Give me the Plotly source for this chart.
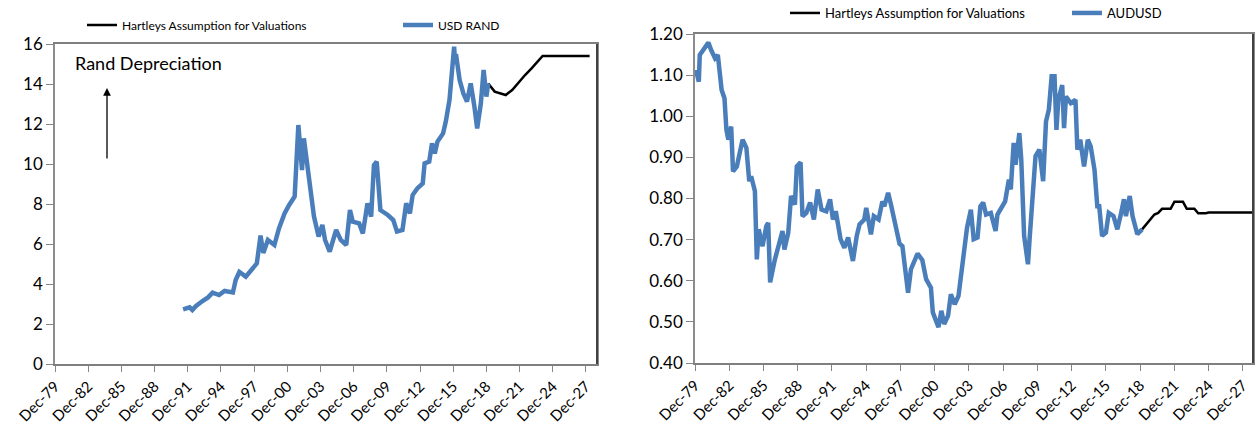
import plotly.graph_objects as go

W, H = 1258, 443

# ---------------- data ----------------
zar_dates = ["1991-07", "1992-02", "1992-05", "1992-09", "1993-04", "1993-10", "1994-03", "1994-10",
             "1995-04", "1996-01", "1996-04", "1996-08", "1997-03", "1997-09", "1998-03", "1998-07",
             "1998-10", "1999-03", "1999-10", "2000-03", "2000-09", "2001-02", "2001-08", "2001-12",
             "2002-04", "2002-06", "2002-08", "2003-02", "2003-05", "2003-10", "2004-02", "2004-05",
             "2004-10", "2005-05", "2005-10", "2006-04", "2006-08", "2006-11", "2007-06", "2007-10",
             "2008-03", "2008-07", "2008-10", "2009-01", "2009-05", "2010-01", "2010-07", "2010-11",
             "2011-05", "2011-09", "2012-01", "2012-04", "2012-09", "2013-03", "2013-05", "2013-10",
             "2014-01", "2014-04", "2014-07", "2015-01", "2015-04", "2015-08", "2015-12", "2016-01",
             "2016-02", "2016-03", "2016-07", "2016-11", "2017-03", "2017-07", "2017-11", "2018-02",
             "2018-06", "2018-09", "2018-12", "2019-02"]
zar_values = [2.73, 2.83, 2.70, 2.90, 3.15, 3.33, 3.57, 3.45,
              3.65, 3.58, 4.20, 4.60, 4.37, 4.70, 5.03, 6.42,
              5.55, 6.20, 5.95, 6.78, 7.53, 7.95, 8.37, 11.95,
              9.70, 11.28, 10.53, 8.03, 7.37, 6.37, 6.95, 6.20,
              5.62, 6.70, 6.20, 5.95, 7.70, 7.12, 7.03, 6.53,
              8.03, 7.37, 9.95, 10.12, 7.70, 7.45, 7.20, 6.62,
              6.70, 8.03, 7.53, 8.45, 8.78, 9.03, 10.03, 10.12,
              11.03, 10.53, 11.12, 11.53, 12.12, 13.20, 15.20, 15.87,
              15.00, 15.50, 14.20, 13.53, 13.12, 14.03, 12.87, 11.78,
              13.03, 14.70, 13.37, 14.03]

zar_hartleys_dates = ["2019-02", "2019-09", "2020-09", "2021-04", "2022-06", "2023-01", "2024-01", "2028-04"]
zar_hartleys_values = [14.03, 13.62, 13.45, 13.70, 14.45, 14.78, 15.40, 15.40]

aud_dates = ["1980-01", "1980-04", "1980-05", "1980-10", "1981-02", "1981-05", "1981-09", "1981-12",
             "1982-04", "1982-07", "1982-09", "1982-11", "1983-02", "1983-04", "1983-08", "1983-11",
             "1984-02", "1984-06", "1984-09", "1984-11", "1985-03", "1985-05", "1985-07", "1985-11",
             "1986-03", "1986-05", "1986-07", "1986-12", "1987-05", "1987-08", "1987-10", "1988-02",
             "1988-05", "1988-09", "1988-11", "1989-03", "1989-05", "1989-09", "1990-01", "1990-05",
             "1990-09", "1991-01", "1991-06", "1991-10", "1992-01", "1992-04", "1992-09", "1993-01",
             "1993-05", "1993-10", "1994-02", "1994-05", "1994-10", "1994-12", "1995-05", "1995-08",
             "1996-01", "1996-05", "1996-07", "1996-11", "1997-02", "1997-07", "1997-11", "1998-02",
             "1998-06", "1998-08", "1998-11", "1999-06", "1999-11", "2000-03", "2000-08", "2000-10",
             "2001-04", "2001-07", "2001-10", "2002-02", "2002-05", "2002-09", "2003-01", "2003-04",
             "2003-07", "2003-10", "2004-02", "2004-05", "2004-09", "2004-12", "2005-03", "2005-06",
             "2005-11", "2006-04", "2006-06", "2006-09", "2007-02", "2007-06", "2007-08", "2007-11",
             "2008-01", "2008-05", "2008-07", "2008-10", "2009-02", "2009-04", "2009-08", "2009-10",
             "2010-02", "2010-06", "2010-09", "2010-12", "2011-03", "2011-06", "2011-08", "2011-10",
             "2012-02", "2012-04", "2012-06", "2012-11", "2013-04", "2013-06", "2013-09", "2014-01",
             "2014-05", "2014-08", "2014-12", "2015-03", "2015-05", "2015-08", "2015-12", "2016-03",
             "2016-08", "2016-12", "2017-04", "2017-07", "2017-09", "2018-01", "2018-04", "2018-09",
             "2019-02"]
aud_values = [1.113, 1.084, 1.149, 1.165, 1.179, 1.161, 1.141, 1.149,
              1.064, 1.044, 0.967, 0.943, 0.975, 0.866, 0.878, 0.911,
              0.943, 0.923, 0.842, 0.854, 0.818, 0.652, 0.725, 0.684,
              0.733, 0.741, 0.596, 0.652, 0.701, 0.721, 0.676, 0.717,
              0.806, 0.785, 0.878, 0.888, 0.757, 0.765, 0.790, 0.749,
              0.822, 0.773, 0.769, 0.798, 0.749, 0.769, 0.701, 0.680,
              0.705, 0.648, 0.709, 0.737, 0.749, 0.777, 0.713, 0.757,
              0.749, 0.793, 0.781, 0.814, 0.785, 0.733, 0.690, 0.684,
              0.620, 0.571, 0.628, 0.666, 0.650, 0.604, 0.583, 0.523,
              0.487, 0.527, 0.495, 0.515, 0.567, 0.543, 0.563, 0.612,
              0.672, 0.729, 0.773, 0.701, 0.705, 0.781, 0.790, 0.761,
              0.765, 0.721, 0.761, 0.773, 0.793, 0.846, 0.822, 0.935,
              0.882, 0.959, 0.895, 0.709, 0.640, 0.709, 0.838, 0.903,
              0.919, 0.842, 0.987, 1.016, 1.097, 1.097, 0.967, 1.040,
              1.076, 0.971, 1.048, 1.032, 1.040, 0.919, 0.943, 0.878,
              0.943, 0.927, 0.870, 0.781, 0.781, 0.709, 0.717, 0.765,
              0.757, 0.725, 0.765, 0.798, 0.757, 0.806, 0.757, 0.713,
              0.725]

aud_hartleys_dates = ["2019-02", "2020-03", "2020-07", "2020-11", "2021-08", "2021-12", "2022-09",
                      "2023-01", "2023-09", "2024-01", "2024-09", "2024-12", "2028-11"]
aud_hartleys_values = [0.725, 0.761, 0.765, 0.775, 0.775, 0.792, 0.792,
                       0.775, 0.775, 0.764, 0.764, 0.766, 0.766]

tick_years = list(range(1979, 2028, 3))
tick_vals = [f"{y}-12-01" for y in tick_years]
tick_text = [f"Dec-{y % 100:02d}" for y in tick_years]

zar_yticks = [0, 2, 4, 6, 8, 10, 12, 14, 16]
aud_yticks = [0.40, 0.50, 0.60, 0.70, 0.80, 0.90, 1.00, 1.10, 1.20]

# ---------------- styling ----------------
BLUE = "#4A7EBB"
FONT = "Lato"


def px_x(p):
    return p / W


def px_y(p):
    return 1 - p / H


fig = go.Figure()

fig.add_trace(go.Scatter(x=zar_hartleys_dates, y=zar_hartleys_values, mode="lines",
                         name="Hartleys Assumption for Valuations",
                         line=dict(color="black", width=2.5),
                         xaxis="x", yaxis="y", legend="legend"))
fig.add_trace(go.Scatter(x=zar_dates, y=zar_values, mode="lines", name="USD RAND",
                         line=dict(color=BLUE, width=4.5),
                         xaxis="x", yaxis="y", legend="legend2"))
fig.add_trace(go.Scatter(x=aud_hartleys_dates, y=aud_hartleys_values, mode="lines",
                         name="Hartleys Assumption for Valuations",
                         line=dict(color="black", width=2.5),
                         xaxis="x2", yaxis="y2", legend="legend3"))
fig.add_trace(go.Scatter(x=aud_dates, y=aud_values, mode="lines", name="AUDUSD",
                         line=dict(color=BLUE, width=4.5),
                         xaxis="x2", yaxis="y2", legend="legend4"))

xcommon = dict(type="date", tickmode="array", tickvals=tick_vals, ticktext=tick_text,
               tickangle=-45, ticks="outside", ticklen=6, tickcolor="#868686",
               showline=True, linecolor="#7f7f7f", linewidth=1.5, mirror=True,
               showgrid=False, zeroline=False, automargin=False,
               tickfont=dict(family=FONT, size=15, color="black"))
ycommon = dict(ticks="outside", ticklen=7, tickcolor="#868686",
               showline=True, linecolor="#8c8c8c", linewidth=1.5, mirror=True,
               showgrid=False, zeroline=False, automargin=False,
               tickfont=dict(family=FONT, size=17, color="black"))


def one_legend(xpx, ypx, size):
    return dict(orientation="h", x=px_x(xpx), y=px_y(ypx), xanchor="left", yanchor="middle",
                font=dict(family=FONT, size=size, color="black"), bgcolor="rgba(0,0,0,0)",
                borderwidth=0, itemclick=False, itemdoubleclick=False)


fig.update_layout(
    width=W, height=H,
    margin=dict(l=0, r=0, t=0, b=0, autoexpand=False),
    paper_bgcolor="white", plot_bgcolor="white",
    font=dict(family=FONT, color="black"),
    xaxis=dict(xcommon, domain=[px_x(55), px_x(597)], anchor="y",
               range=["1979-12-01", "2028-12-01"]),
    yaxis=dict(ycommon, domain=[px_y(364), px_y(44)], anchor="x",
               range=[0, 16], tickvals=zar_yticks, ticktext=[str(v) for v in zar_yticks]),
    xaxis2=dict(xcommon, domain=[px_x(695), px_x(1253)], anchor="y2",
                range=["1979-12-01", "2028-10-20"]),
    yaxis2=dict(ycommon, domain=[px_y(363), px_y(34)], anchor="x2",
                range=[0.40, 1.20], tickvals=aud_yticks,
                ticktext=[f"{v:.2f}" for v in aud_yticks]),
    legend=one_legend(82, 25, 12),
    legend2=one_legend(398, 25, 12),
    legend3=one_legend(785, 13, 13),
    legend4=one_legend(1067, 13, 13),
    showlegend=True,
)

# darker right-hand frame edges
for x0, yb, yt in ((597, 364, 44), (1253, 363, 34)):
    fig.add_shape(type="line", xref="paper", yref="paper",
                  x0=px_x(x0), x1=px_x(x0), y0=px_y(yb), y1=px_y(yt),
                  line=dict(color="#404040", width=2))

# annotation text and arrow
fig.add_annotation(x=px_x(73), y=px_y(63), xref="paper", yref="paper", text="Rand Depreciation",
                   showarrow=False, xanchor="left", yanchor="middle",
                   font=dict(family=FONT, size=18, color="black"))
fig.add_annotation(x=px_x(107), y=px_y(88), xref="paper", yref="paper", text="",
                   showarrow=True, arrowhead=2, arrowsize=1.2, arrowwidth=1.3, arrowcolor="black",
                   ax=0, ay=72, axref="pixel", ayref="pixel")

fig.write_html("out.html")
